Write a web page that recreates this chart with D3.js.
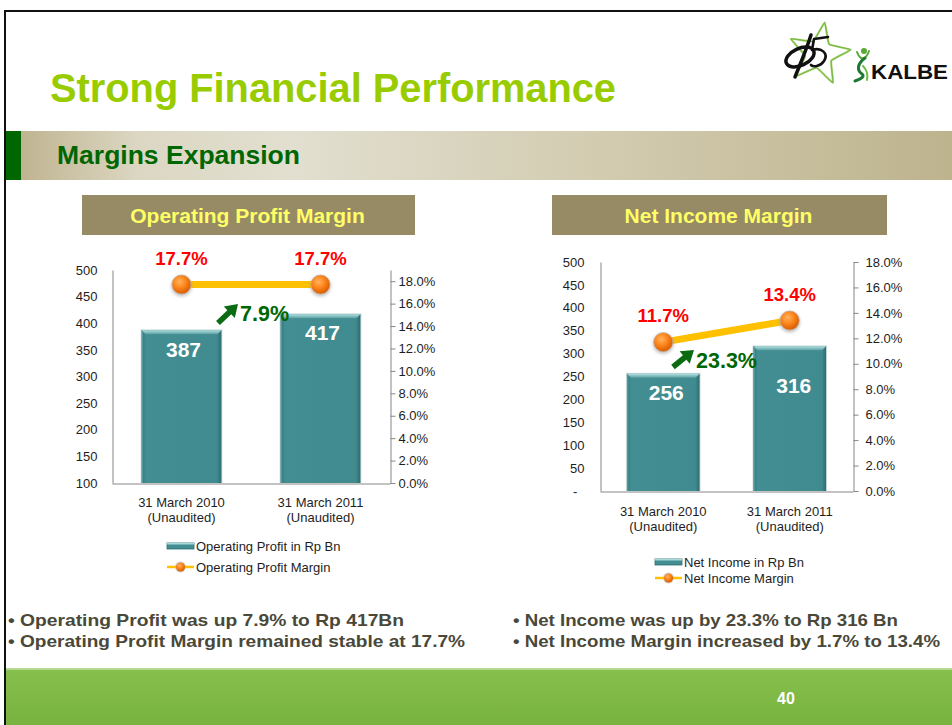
<!DOCTYPE html>
<html>
<head>
<meta charset="utf-8">
<script src="https://cdn.jsdelivr.net/npm/d3@7"></script>
<style>
  html, body { margin: 0; padding: 0; background: #fff; }
  svg { display: block; font-family: 'Liberation Sans', Arial, Helvetica, sans-serif; }
</style>
</head>
<body>
<svg id="slide" width="952" height="725"></svg>
<script>
// ---- data ----
const categories = ["31 March 2010", "31 March 2011"];
const categoryNote = "(Unaudited)";

const operatingProfit = [387, 417];        // Rp Bn
const operatingMargin = [17.7, 17.7];      // %
const operatingGrowth = "7.9%";

const netIncome = [256, 316];              // Rp Bn
const netMargin = [11.7, 13.4];            // %
const netGrowth = "23.3%";

const opValueTicks = [100, 150, 200, 250, 300, 350, 400, 450, 500];
const niValueTicks = [0, 50, 100, 150, 200, 250, 300, 350, 400, 450, 500];
const marginTicks = [0, 2, 4, 6, 8, 10, 12, 14, 16, 18];

const slideTitle = "Strong Financial Performance";
const sectionTitle = "Margins Expansion";
const bulletsLeft = [
  "\u2022 Operating Profit was up 7.9% to Rp 417Bn",
  "\u2022 Operating Profit Margin remained stable at 17.7%"
];
const bulletsRight = [
  "\u2022 Net Income was up by 23.3% to Rp 316 Bn",
  "\u2022 Net Income Margin increased by 1.7% to 13.4%"
];
const pageNumber = "40";

// ---- slide frame ----
const svg = d3.select("#slide");
const defs = svg.append("defs");

// band gradient
const band = defs.append("linearGradient").attr("id", "bandGrad")
  .attr("x1", "0%").attr("x2", "100%");
[[0, "#bcb08a"], [0.14, "#dcd7c3"], [0.3, "#e2dfd0"], [0.62, "#d3ccb1"], [1, "#bdb38d"]]
  .forEach(([o, c]) => band.append("stop").attr("offset", o).attr("stop-color", c));

// bar face gradient
const barGrad = defs.append("linearGradient").attr("id", "barGrad")
  .attr("x1", "0%").attr("x2", "100%");
[[0, "#33797d"], [0.06, "#428e92"], [0.94, "#408b8f"], [1, "#2d6c70"]]
  .forEach(([o, c]) => barGrad.append("stop").attr("offset", o).attr("stop-color", c));

const bevel = defs.append("linearGradient").attr("id", "bevelGrad")
  .attr("x1", "0").attr("y1", "0").attr("x2", "0").attr("y2", "1");
[[0, "#b3e2e3"], [1, "#5c9fa2"]]
  .forEach(([o, c]) => bevel.append("stop").attr("offset", o).attr("stop-color", c));

// marker gradient
const mk = defs.append("radialGradient").attr("id", "markerGrad")
  .attr("cx", "40%").attr("cy", "35%").attr("r", "65%");
[[0, "#ffb466"], [0.45, "#ff8a1f"], [1, "#d85c00"]]
  .forEach(([o, c]) => mk.append("stop").attr("offset", o).attr("stop-color", c));

const glow = defs.append("filter").attr("id", "soft").attr("x", "-50%").attr("y", "-50%")
  .attr("width", "200%").attr("height", "200%");
glow.append("feGaussianBlur").attr("stdDeviation", 1.6);

const footGrad = defs.append("linearGradient").attr("id", "footGrad")
  .attr("x1", "0").attr("y1", "0").attr("x2", "0").attr("y2", "1");
[[0, "#86bf4b"], [1, "#79b33f"]]
  .forEach(([o, c]) => footGrad.append("stop").attr("offset", o).attr("stop-color", c));

svg.append("rect").attr("width", 952).attr("height", 725).attr("fill", "#fff");

// footer
svg.append("rect").attr("x", 5).attr("y", 670).attr("width", 947).attr("height", 55)
  .attr("fill", "url(#footGrad)");
svg.append("rect").attr("x", 5).attr("y", 668).attr("width", 947).attr("height", 2)
  .attr("fill", "#b5d98e");
svg.append("text").attr("x", 786).attr("y", 704).attr("text-anchor", "middle")
  .attr("font-size", 16).attr("font-weight", "bold").attr("fill", "#fff").text(pageNumber);

// frame lines
svg.append("rect").attr("x", 4).attr("y", 10).attr("width", 948).attr("height", 2).attr("fill", "#111");
svg.append("rect").attr("x", 4).attr("y", 10).attr("width", 2).attr("height", 715).attr("fill", "#111");

// title
svg.append("text").attr("x", 50).attr("y", 102)
  .attr("font-size", 40).attr("font-weight", "bold").attr("fill", "#99cc00")
  .attr("textLength", 566).attr("lengthAdjust", "spacingAndGlyphs")
  .text(slideTitle);

// section band
svg.append("rect").attr("x", 6).attr("y", 131).attr("width", 946).attr("height", 49).attr("fill", "url(#bandGrad)");
svg.append("rect").attr("x", 6).attr("y", 131).attr("width", 15).attr("height", 49).attr("fill", "#006600");
svg.append("text").attr("x", 57).attr("y", 164)
  .attr("font-size", 25).attr("font-weight", "bold").attr("fill", "#006600")
  .attr("textLength", 243).attr("lengthAdjust", "spacingAndGlyphs")
  .text(sectionTitle);

// ---- logo ----
const logo = svg.append("g").attr("class", "logo");
const starPts = [];
for (let i = 0; i < 10; i++) {
  const r = i % 2 === 0 ? 32 : 14;
  const a = -Math.PI / 2 + 0.18 + i * Math.PI / 5;
  starPts.push([819 + r * Math.cos(a), 54 + r * Math.sin(a)]);
}
const starPath = d3.line().curve(d3.curveCardinalClosed.tension(0.7))(starPts);
logo.append("path").attr("d", starPath)
  .attr("fill", "none").attr("stroke", "#a5d36b").attr("stroke-width", 2.2);
logo.append("path").attr("d", starPath)
  .attr("fill", "none").attr("stroke", "#4e9a2a").attr("stroke-width", 0.8).attr("opacity", 0.7);
// black swash figure
logo.append("ellipse").attr("cx", 800).attr("cy", 57).attr("rx", 15).attr("ry", 8.5)
  .attr("transform", "rotate(-25 800 57)")
  .attr("fill", "none").attr("stroke", "#111").attr("stroke-width", 3.5);
logo.append("path").attr("d", "M811,35 C807,48 801,62 795,77")
  .attr("fill", "none").attr("stroke", "#111").attr("stroke-width", 3.5).attr("stroke-linecap", "round");
logo.append("path").attr("d", "M828,37 L814,39 L812,50 C821,47 829,53 824,61 C820,67 813,67 811,65")
  .attr("fill", "none").attr("stroke", "#111").attr("stroke-width", 2.6).attr("stroke-linecap", "round")
  .attr("stroke-linejoin", "round");
// green figure
logo.append("circle").attr("cx", 864).attr("cy", 51).attr("r", 3).attr("fill", "#5aa83a");
logo.append("path").attr("d", "M857,52 C859,58 862,59 864,58 C867,57 868,54 869,51")
  .attr("fill", "none").attr("stroke", "#5aa83a").attr("stroke-width", 2).attr("stroke-linecap", "round");
logo.append("path").attr("d", "M865,58 C858,63 856,70 862,74 C866,77 858,80 855,81")
  .attr("fill", "none").attr("stroke", "#1e7a32").attr("stroke-width", 3).attr("stroke-linecap", "round");
logo.append("path").attr("d", "M863,66 C867,70 868,75 867,80")
  .attr("fill", "none").attr("stroke", "#6cbf45").attr("stroke-width", 2).attr("stroke-linecap", "round");
logo.append("text").attr("x", 871).attr("y", 79)
  .attr("font-size", 20).attr("font-weight", "bold").attr("fill", "#111")
  .attr("textLength", 77).attr("lengthAdjust", "spacingAndGlyphs").text("KALBE");

// ---- chart drawing ----
function drawChart(cfg) {
  const g = svg.append("g");

  // title box
  g.append("rect").attr("x", cfg.box[0]).attr("y", 195).attr("width", cfg.box[1] - cfg.box[0]).attr("height", 40)
    .attr("fill", "#978b65");
  g.append("text").attr("x", (cfg.box[0] + cfg.box[1]) / 2 - 1).attr("y", 223)
    .attr("text-anchor", "middle").attr("font-size", 21).attr("font-weight", "bold")
    .attr("fill", "#ffff66").text(cfg.title);

  const x = d3.scaleBand().domain(categories).range([cfg.x0, cfg.x1])
    .paddingInner(0.425).paddingOuter(0.2125);
  const yL = d3.scaleLinear().domain(cfg.leftDomain).range([cfg.yBottom, cfg.yTop]);
  const yR = d3.scaleLinear().domain(cfg.rightDomain).range([cfg.yBottom, cfg.yTop]);

  const axisColor = "#868686";
  const tickText = "#1e1e1e";

  // left axis
  const gl = g.append("g").attr("transform", `translate(${cfg.x0 + 0.5},0)`)
    .call(d3.axisLeft(yL).tickValues(cfg.leftTicks).tickSize(0).tickSizeOuter(0)
      .tickPadding(cfg.leftPad).tickFormat(cfg.leftFormat));
  gl.select(".domain").attr("stroke", axisColor);
  gl.selectAll("text").attr("font-size", 13).attr("fill", tickText).attr("font-family", null)
    .style("white-space", "pre");

  // right axis
  const gr = g.append("g").attr("transform", `translate(${cfg.x1 + 0.5},0)`)
    .call(d3.axisRight(yR).tickValues(marginTicks).tickSizeInner(5).tickSizeOuter(0)
      .tickPadding(cfg.rightPad).tickFormat(d => d.toFixed(1) + "%"));
  gr.select(".domain").attr("stroke", axisColor);
  gr.selectAll(".tick line").attr("stroke", axisColor);
  gr.selectAll("text").attr("font-size", 13).attr("fill", tickText).attr("font-family", null);

  // bottom axis
  const gb = g.append("g").attr("transform", `translate(0,${cfg.yBottom + 0.5})`)
    .call(d3.axisBottom(x).tickSize(0).tickSizeOuter(0));
  gb.select(".domain").attr("stroke", axisColor);
  gb.selectAll("text").remove();
  categories.forEach(c => {
    const cx = x(c) + x.bandwidth() / 2;
    g.append("text").attr("x", cx).attr("y", cfg.yBottom + cfg.catDy[0]).attr("text-anchor", "middle")
      .attr("font-size", 13).attr("fill", tickText).text(c);
    g.append("text").attr("x", cx).attr("y", cfg.yBottom + cfg.catDy[1]).attr("text-anchor", "middle")
      .attr("font-size", 13).attr("fill", tickText).text(categoryNote);
  });

  // bars
  const bars = g.append("g");
  cfg.values.forEach((v, i) => {
    const bx = x(categories[i]), bw = x.bandwidth();
    const top = yL(v), h = cfg.yBottom - top;
    bars.append("rect").attr("x", bx - 1).attr("y", top - 1).attr("width", bw + 2).attr("height", h + 1)
      .attr("fill", "#c9d5d6").attr("opacity", 0.7);
    bars.append("rect").attr("x", bx).attr("y", top).attr("width", bw).attr("height", h)
      .attr("fill", "url(#barGrad)");
    bars.append("path")
      .attr("d", `M${bx},${top} L${bx + bw},${top} L${bx + bw - 4},${top + 4} L${bx + 4},${top + 4} Z`)
      .attr("fill", "url(#bevelGrad)");
    bars.append("rect").attr("x", bx).attr("y", top).attr("width", 1.5).attr("height", h)
      .attr("fill", "#6aa8ab").attr("opacity", 0.6);
    bars.append("text").attr("x", bx + bw / 2 + cfg.labelDx[i]).attr("y", top + cfg.labelDy[i])
      .attr("text-anchor", "middle").attr("font-size", 21).attr("font-weight", "bold")
      .attr("fill", "#fff").text(String(v));
  });

  // margin line
  const pts = cfg.margins.map((m, i) => [x(categories[i]) + x.bandwidth() / 2, yR(m)]);
  g.append("path").attr("d", d3.line()(pts)).attr("fill", "none")
    .attr("stroke", "#ffc000").attr("stroke-width", 7);
  pts.forEach(([px, py], i) => {
    g.append("circle").attr("cx", px).attr("cy", py + 1.5).attr("r", 10.5)
      .attr("fill", "#9a9a9a").attr("opacity", 0.55).attr("filter", "url(#soft)");
    g.append("circle").attr("cx", px).attr("cy", py).attr("r", 9.5)
      .attr("fill", "url(#markerGrad)").attr("stroke", "#c9a48a").attr("stroke-width", 0.8);
    g.append("text").attr("x", px).attr("y", py - 20).attr("text-anchor", "middle")
      .attr("font-size", 18.5).attr("font-weight", "bold").attr("fill", "#ff0000")
      .text(cfg.margins[i].toFixed(1) + "%");
  });

  // growth arrow and label
  const [tx, ty, hx, hy] = cfg.arrow;
  const len = Math.hypot(hx - tx, hy - ty);
  const ang = Math.atan2(hy - ty, hx - tx) * 180 / Math.PI;
  const headL = 12, shaftW = 2.8, headW = 8;
  g.append("path")
    .attr("d", `M0,${-shaftW} L${len - headL},${-shaftW} L${len - headL},${-headW} L${len},0 ` +
      `L${len - headL},${headW} L${len - headL},${shaftW} L0,${shaftW} Z`)
    .attr("transform", `translate(${tx},${ty}) rotate(${ang})`)
    .attr("fill", "#0b6b12");
  g.append("text").attr("x", cfg.growthPos[0]).attr("y", cfg.growthPos[1])
    .attr("font-size", 21.5).attr("font-weight", "bold").attr("fill", "#006600")
    .text(cfg.growth);

  // legend
  const lg = g.append("g");
  const [lx, ly1, ly2] = cfg.legend;
  lg.append("rect").attr("x", lx).attr("y", ly1 - 3).attr("width", 27).attr("height", 6)
    .attr("fill", "#428e92").attr("stroke", "#2d6c70").attr("stroke-width", 0.8);
  lg.append("rect").attr("x", lx).attr("y", ly1 - 3).attr("width", 27).attr("height", 1.5)
    .attr("fill", "#a6d9da");
  lg.append("text").attr("x", lx + 29).attr("y", ly1 + 5).attr("font-size", 13)
    .attr("fill", tickText).text(cfg.legendBar);
  lg.append("line").attr("x1", lx).attr("x2", lx + 27).attr("y1", ly2).attr("y2", ly2)
    .attr("stroke", "#ffc000").attr("stroke-width", 2.5);
  lg.append("circle").attr("cx", lx + 13.5).attr("cy", ly2).attr("r", 5.5)
    .attr("fill", "#b8b8b8").attr("opacity", 0.6);
  lg.append("circle").attr("cx", lx + 13.5).attr("cy", ly2).attr("r", 4.5)
    .attr("fill", "url(#markerGrad)");
  lg.append("text").attr("x", lx + 29).attr("y", ly2 + 5).attr("font-size", 13)
    .attr("fill", tickText).text(cfg.legendLine);
}

drawChart({
  title: "Operating Profit Margin",
  box: [82, 415],
  x0: 112, x1: 390, yTop: 270, yBottom: 483,
  leftDomain: [100, 500], rightDomain: [0, 19],
  leftTicks: opValueTicks, leftPad: 15, rightPad: 3,
  leftFormat: d => String(d),
  values: operatingProfit, margins: operatingMargin,
  labelDx: [2, 2], labelDy: [27, 26],
  catDy: [24, 39],
  arrow: [218, 323, 238, 304], growth: operatingGrowth, growthPos: [240, 321],
  legend: [167, 546, 567],
  legendBar: "Operating Profit in Rp Bn", legendLine: "Operating Profit Margin"
});

drawChart({
  title: "Net Income Margin",
  box: [552, 887],
  x0: 600, x1: 853, yTop: 262, yBottom: 491,
  leftDomain: [0, 500], rightDomain: [0, 18],
  leftTicks: niValueTicks, leftPad: 16, rightPad: 7,
  leftFormat: d => d === 0 ? "-\u2007" : String(d),
  values: netIncome, margins: netMargin,
  labelDx: [3, 4], labelDy: [26, 47],
  catDy: [25, 40],
  arrow: [673, 367, 694, 350], growth: netGrowth, growthPos: [696, 368],
  legend: [655, 562, 578],
  legendBar: "Net Income in Rp Bn", legendLine: "Net Income Margin"
});

// ---- bullet notes ----
const notes = svg.append("g").attr("font-family", "'Liberation Sans Narrow', 'Liberation Sans', Arial, sans-serif")
  .attr("font-weight", "bold").attr("font-size", 17).attr("fill", "#4a4838");
const leftWidths = [396, 457], rightWidths = [385, 427];
bulletsLeft.forEach((t, i) => notes.append("text").attr("x", 8).attr("y", 626 + i * 21)
  .attr("textLength", leftWidths[i]).attr("lengthAdjust", "spacingAndGlyphs").text(t));
bulletsRight.forEach((t, i) => notes.append("text").attr("x", 513).attr("y", 626 + i * 21)
  .attr("textLength", rightWidths[i]).attr("lengthAdjust", "spacingAndGlyphs").text(t));
</script>
</body>
</html>
